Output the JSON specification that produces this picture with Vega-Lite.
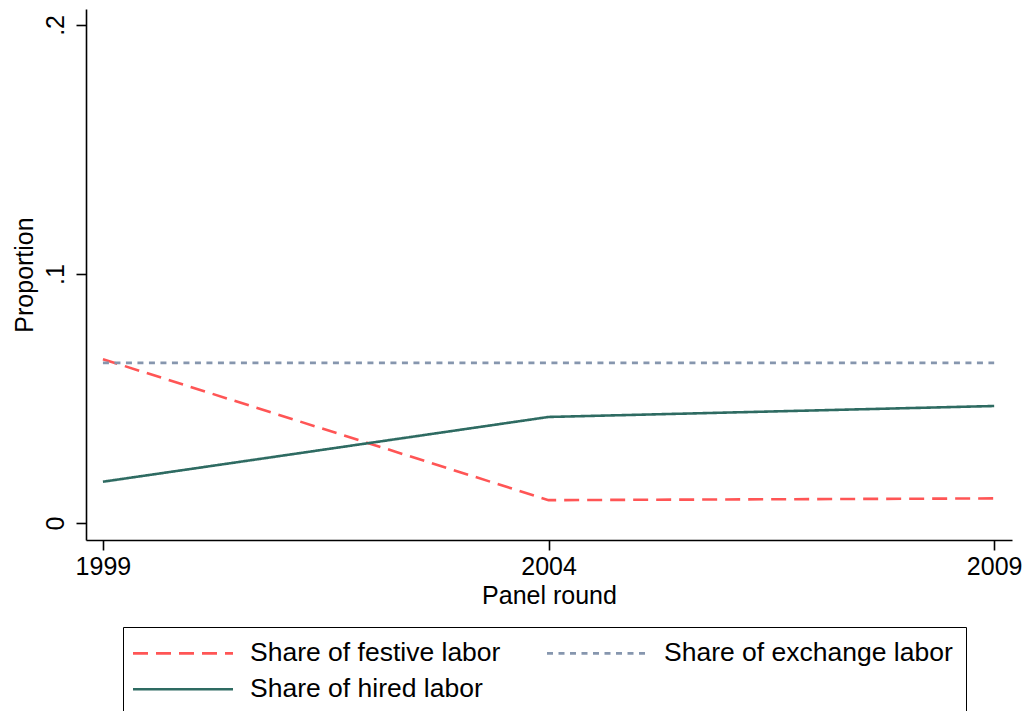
{
  "$schema": "https://vega.github.io/schema/vega-lite/v6.json",
  "autosize": {"type": "none"},
  "width": 926,
  "height": 531,
  "padding": {"left": 86, "top": 9, "right": 15, "bottom": 171},
  "background": "white",
  "config": {
    "view": {"stroke": null},
    "font": "Liberation Sans",
    "axis": {
      "domainColor": "black",
      "domainWidth": 1.6,
      "tickColor": "black",
      "tickWidth": 1.6,
      "tickSize": 10,
      "grid": false,
      "labelFont": "Liberation Sans",
      "labelFontSize": 25,
      "labelColor": "black",
      "titleFont": "Liberation Sans",
      "titleFontSize": 25,
      "titleFontWeight": "normal",
      "titleColor": "black"
    }
  },
  "data": {
    "values": [
      {"series": "Share of festive labor", "year": 1999, "value": 0.0658},
      {"series": "Share of festive labor", "year": 2004, "value": 0.0092},
      {"series": "Share of festive labor", "year": 2009, "value": 0.0099},
      {"series": "Share of exchange labor", "year": 1999, "value": 0.0643},
      {"series": "Share of exchange labor", "year": 2004, "value": 0.0643},
      {"series": "Share of exchange labor", "year": 2009, "value": 0.0643},
      {"series": "Share of hired labor", "year": 1999, "value": 0.0166},
      {"series": "Share of hired labor", "year": 2004, "value": 0.0426},
      {"series": "Share of hired labor", "year": 2009, "value": 0.047}
    ]
  },
  "mark": {"type": "line", "strokeWidth": 2.6, "clip": true},
  "encoding": {
    "x": {
      "field": "year",
      "type": "quantitative",
      "scale": {"domain": [1998.81, 2009.2], "nice": false, "zero": false},
      "axis": {
        "values": [1999, 2004, 2009],
        "format": "d",
        "title": "Panel round",
        "labelPadding": 4,
        "titlePadding": 4,
        "labelFlush": false
      }
    },
    "y": {
      "field": "value",
      "type": "quantitative",
      "scale": {"domain": [-0.0068, 0.2064], "nice": false, "zero": false},
      "axis": {
        "values": [0, 0.1, 0.2],
        "labelExpr": "datum.value == 0 ? '0' : (datum.value == 0.1 ? '.1' : '.2')",
        "labelAngle": -90,
        "labelAlign": "center",
        "labelBaseline": "alphabetic",
        "labelPadding": 13,
        "title": "Proportion",
        "titlePadding": 6,
        "labelFlush": false
      }
    },
    "color": {
      "field": "series",
      "type": "nominal",
      "scale": {
        "domain": ["Share of festive labor", "Share of exchange labor", "Share of hired labor"],
        "range": ["#FF5555", "#8696AE", "#2E6B62"]
      },
      "legend": {
        "title": null,
        "orient": "none",
        "legendX": 37,
        "legendY": 618,
        "direction": "horizontal",
        "columns": 2,
        "strokeColor": "black",
        "fillColor": "white",
        "padding": 13,
        "symbolType": "M-10,0H10",
        "symbolSize": 100,
        "symbolOffset": 33.75,
        "symbolStrokeWidth": 2.6,
        "labelFont": "Liberation Sans",
        "labelFontSize": 26.5,
        "labelColor": "black",
        "labelOffset": 53.75,
        "labelLimit": 400,
        "columnPadding": 40,
        "rowPadding": 9
      }
    },
    "strokeDash": {
      "field": "series",
      "type": "nominal",
      "scale": {
        "domain": ["Share of festive labor", "Share of exchange labor", "Share of hired labor"],
        "range": [[15, 8], [6, 5.5], [1, 0]]
      },
      "legend": null
    }
  }
}
